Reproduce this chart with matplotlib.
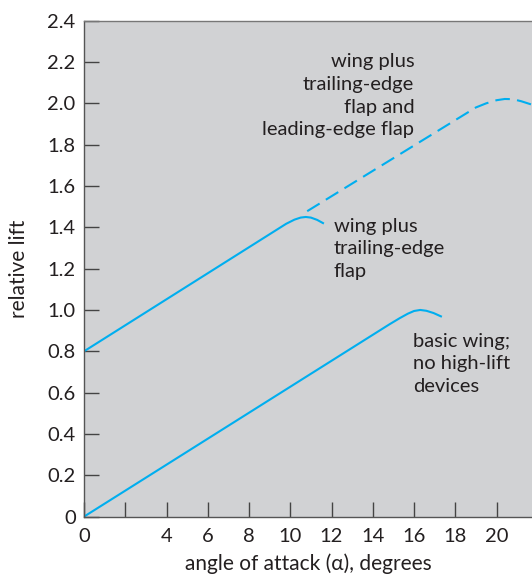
import matplotlib.pyplot as plt

plt.rcParams['font.family'] = ['Lato', 'DejaVu Sans']

# curves (angle in degrees, relative lift)
basic_x = [0, 14.8, 15.3, 15.7, 16.0, 16.3, 16.6, 16.95, 17.35]
basic_y = [0, 0.93, 0.96, 0.982, 0.995, 1.0, 0.996, 0.985, 0.967]

te_x = [0, 9.8, 10.2, 10.5, 10.75, 11.0, 11.3, 11.63]
te_y = [0.8, 1.417, 1.437, 1.447, 1.45, 1.447, 1.436, 1.418]

le_x = [10.82, 19.0, 19.5, 20.0, 20.4, 20.8, 21.2, 21.7]
le_y = [1.478, 1.98, 2.0, 2.015, 2.021, 2.02, 2.01, 1.994]

x_ticks = [0, 2, 4, 6, 8, 10, 12, 14, 16, 18, 20]
x_labels = ['0', '', '4', '6', '8', '10', '12', '14', '16', '18', '20']
y_ticks = [0, 0.2, 0.4, 0.6, 0.8, 1.0, 1.2, 1.4, 1.6, 1.8, 2.0, 2.2, 2.4]
y_labels = ['0', '0.2', '0.4', '0.6', '0.8', '1.0', '1.2', '1.4', '1.6',
            '1.8', '2.0', '2.2', '2.4']

LINE = '#00aeef'
TXT = '#231f20'

fig = plt.figure(figsize=(5.32, 5.74), dpi=100)
ax = fig.add_axes([0.158, 0.1, 0.842, 0.864])
ax.set_facecolor('#d1d2d4')

ax.plot(basic_x, basic_y, color=LINE, lw=1.5, solid_capstyle='butt')
ax.plot(te_x, te_y, color=LINE, lw=1.5, solid_capstyle='butt')
ln, = ax.plot(le_x, le_y, color=LINE, lw=1.5, dash_capstyle='butt')
ln.set_dashes((7, 3.5))

ax.set_xlim(0, 21.72)
ax.set_ylim(0, 2.4)
ax.set_xticks(x_ticks)
ax.set_xticklabels(x_labels)
ax.set_yticks(y_ticks)
ax.set_yticklabels(y_labels)
ax.tick_params(direction='in', length=11, width=1, color='#444444',
               labelsize=14.5, labelcolor=TXT)
ax.tick_params(axis='x', pad=8)
ax.tick_params(axis='y', pad=6)

for s in ['left', 'bottom']:
    ax.spines[s].set_color('#555555')
    ax.spines[s].set_linewidth(1)
ax.spines['top'].set_color('#777777')
ax.spines['top'].set_linewidth(1)
ax.spines['right'].set_visible(False)

ax.set_xlabel('angle of attack (α), degrees', fontsize=15, color=TXT, labelpad=6)
ax.set_ylabel('relative lift', fontsize=15, color=TXT, labelpad=13)

# va='baseline' puts the last line on the given y
ax.text(16.01, 1.846, 'wing plus\ntrailing-edge\nflap and\nleading-edge flap',
        ha='right', va='baseline', fontsize=14.5, color=TXT, linespacing=1.4,
        multialignment='right')
ax.text(12.1, 1.160, 'wing plus\ntrailing-edge\nflap',
        ha='left', va='baseline', fontsize=14.5, color=TXT, linespacing=1.4)
ax.text(15.95, 0.603, 'basic wing;\nno high-lift\ndevices',
        ha='left', va='baseline', fontsize=14.5, color=TXT, linespacing=1.4)

fig.savefig('out.png', dpi=100)
